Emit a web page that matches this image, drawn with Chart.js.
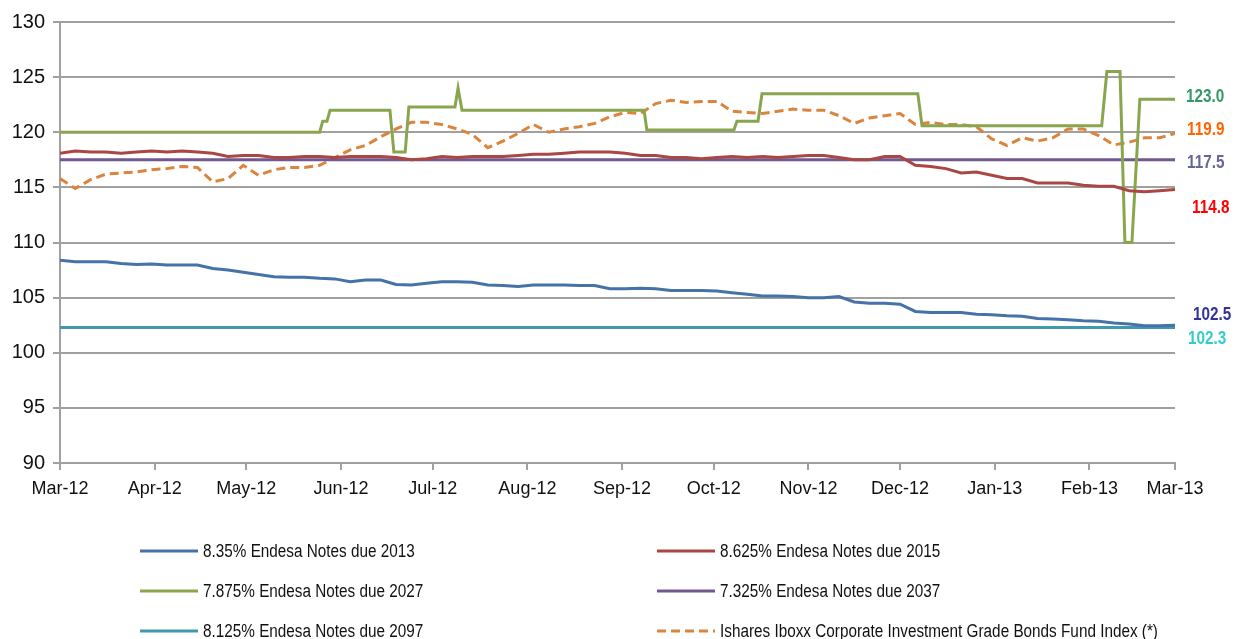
<!DOCTYPE html>
<html>
<head>
<meta charset="utf-8">
<script src="https://cdn.jsdelivr.net/npm/chart.js@4.4.0/dist/chart.umd.min.js"></script>
<style>
  body { margin: 0; background: #fff; }
  #wrap { position: relative; width: 1245px; height: 639px; }
  #chartBox { position: absolute; left: 0; top: 0; width: 1245px; height: 515px; }
  #legend { position: absolute; left: 0; top: 0; width: 1245px; height: 639px; pointer-events: none; }
  .item { position: absolute; display: flex; align-items: center; height: 40px;
          font-family: "Liberation Sans", Arial, sans-serif;
          font-size: 18px; color: #111; white-space: nowrap; }
  .item svg { margin-right: 5px; }
  /* the original uses a narrow face, so squeeze the text */
  .item span { display: inline-block; transform: scaleX(0.85); transform-origin: left center; }
</style>
</head>
<body>
<div id="wrap">
  <div id="chartBox"><canvas id="bondChart"></canvas></div>
  <div id="legend"></div>
</div>
<script>
// x axis: days since 1 Mar 2012
const monthDays = [0, 31, 61, 92, 122, 153, 184, 214, 245, 275, 306, 337, 365];
const monthLabels = ['Mar-12', 'Apr-12', 'May-12', 'Jun-12', 'Jul-12', 'Aug-12', 'Sep-12',
                     'Oct-12', 'Nov-12', 'Dec-12', 'Jan-13', 'Feb-13', 'Mar-13'];

// sampling days for the moving series
const sampleDays = [0, 5, 10, 15, 20, 25, 30, 35, 40, 45, 50, 55, 60, 65, 70, 75, 80, 85, 90, 95,
  100, 105, 110, 115, 120, 125, 130, 135, 140, 145, 150, 155, 160, 165, 170, 175, 180, 185, 190, 195,
  200, 205, 210, 215, 220, 225, 230, 235, 240, 245, 250, 255, 260, 265, 270, 275, 280, 285, 290, 295,
  300, 305, 310, 315, 320, 325, 330, 335, 340, 345, 350, 355, 360, 365];

// 8.35% Endesa Notes due 2013
const notes2013 = [108.4, 108.25, 108.25, 108.25, 108.1, 108.0, 108.05, 107.95, 107.95, 107.95,
  107.65, 107.5, 107.3, 107.1, 106.9, 106.85, 106.85, 106.75, 106.7, 106.45,
  106.6, 106.6, 106.2, 106.15, 106.3, 106.45, 106.45, 106.4, 106.15, 106.1,
  106.0, 106.15, 106.15, 106.15, 106.1, 106.1, 105.8, 105.8, 105.85, 105.8,
  105.65, 105.65, 105.65, 105.6, 105.45, 105.3, 105.15, 105.15, 105.1, 105.0,
  105.0, 105.1, 104.6, 104.5, 104.5, 104.4, 103.75, 103.65, 103.65, 103.65,
  103.5, 103.45, 103.35, 103.3, 103.1, 103.05, 103.0, 102.9, 102.85, 102.7,
  102.6, 102.45, 102.45, 102.5];

// 8.625% Endesa Notes due 2015
const notes2015 = [118.1, 118.3, 118.2, 118.2, 118.1, 118.2, 118.3, 118.2, 118.3, 118.2,
  118.1, 117.8, 117.9, 117.9, 117.7, 117.7, 117.8, 117.8, 117.7, 117.8,
  117.8, 117.8, 117.7, 117.5, 117.6, 117.8, 117.7, 117.8, 117.8, 117.8,
  117.9, 118.0, 118.0, 118.1, 118.2, 118.2, 118.2, 118.1, 117.9, 117.9,
  117.7, 117.7, 117.6, 117.7, 117.8, 117.7, 117.8, 117.7, 117.8, 117.9,
  117.9, 117.7, 117.5, 117.5, 117.8, 117.8, 117.0, 116.9, 116.7, 116.3,
  116.4, 116.1, 115.8, 115.8, 115.4, 115.4, 115.4, 115.2, 115.1, 115.1,
  114.7, 114.6, 114.7, 114.8];

// Ishares Iboxx Corporate Investment Grade Bonds Fund Index
const ishares = [115.8, 114.9, 115.7, 116.2, 116.3, 116.4, 116.6, 116.7, 116.9, 116.8,
  115.5, 115.8, 117.0, 116.1, 116.6, 116.8, 116.8, 117.0, 117.7, 118.4,
  118.8, 119.6, 120.3, 120.9, 120.9, 120.7, 120.3, 119.8, 118.6, 119.2,
  119.9, 120.7, 120.0, 120.3, 120.5, 120.8, 121.4, 121.8, 121.7, 122.6,
  122.9, 122.7, 122.8, 122.8, 121.9, 121.8, 121.7, 121.9, 122.1, 122.0,
  122.0, 121.5, 120.8, 121.3, 121.5, 121.7, 120.7, 120.9, 120.7, 120.7,
  120.5, 119.4, 118.8, 119.5, 119.2, 119.5, 120.3, 120.3, 119.7, 118.85,
  119.1, 119.5, 119.5, 119.9];

// 7.875% Endesa Notes due 2027 (moves in steps)
const notes2027Days = [0, 85, 86, 87.4, 88.4, 108, 109.3, 113, 114.2, 129.3, 130.3, 131.6,
  191.2, 192.1, 220.6, 221.6, 228.5, 229.8, 280.8, 282.2, 341, 342.7, 347, 348.6, 350.9, 353.5, 365];
const notes2027 = [120.0, 120.0, 121.0, 121.0, 122.0, 122.0, 118.2, 118.2, 122.3, 122.3, 124.0, 122.0,
  122.0, 120.2, 120.2, 121.0, 121.0, 123.5, 123.5, 120.6, 120.6, 125.5, 125.5, 110.0, 110.0, 123.0, 123.0];

// flat series
const flatDays = [0, 365];
const notes2037 = [117.5, 117.5];
const notes2097 = [102.3, 102.3];

const yTicks = [90, 95, 100, 105, 110, 115, 120, 125, 130];

function points(days, vals) {
  return days.map((d, i) => ({ x: d, y: vals[i] }));
}

const GRID = '#a0a0a0';

// value label at the right end of each line
const endLabels = {
  id: 'endLabels',
  afterDatasetsDraw(chart) {
    const ctx = chart.ctx;
    const yScale = chart.scales.y;
    const right = chart.chartArea.right;
    chart.data.datasets.forEach((ds) => {
      const lab = ds.endLabel;
      if (!lab) return;
      const last = ds.data[ds.data.length - 1].y;
      ctx.save();
      ctx.font = 'bold 18px "Liberation Sans", Arial, sans-serif';
      ctx.textBaseline = 'middle';
      ctx.textAlign = 'left';
      ctx.fillStyle = lab.color;
      ctx.translate(right + lab.dx, yScale.getPixelForValue(last) + lab.dy);
      ctx.scale(0.85, 1);
      ctx.fillText(last.toFixed(1), 0, 0);
      ctx.restore();
    });
  }
};

const datasets = [
  { label: '8.35% Endesa Notes due 2013', data: points(sampleDays, notes2013),
    borderColor: '#4572A7', endLabel: { color: '#333399', dx: 18, dy: -10 }, legendPos: [140, 531] },
  { label: '8.625% Endesa Notes due 2015', data: points(sampleDays, notes2015),
    borderColor: '#AA4643', endLabel: { color: '#FF0000', dx: 17, dy: 18 }, legendPos: [657, 531] },
  { label: '7.875% Endesa Notes due 2027', data: points(notes2027Days, notes2027),
    borderColor: '#89A54E', endLabel: { color: '#339966', dx: 11, dy: -2 }, legendPos: [140, 571] },
  { label: '7.325% Endesa Notes due 2037', data: points(flatDays, notes2037),
    borderColor: '#71588F', endLabel: { color: '#666699', dx: 12, dy: 3 }, legendPos: [657, 571] },
  { label: '8.125% Endesa Notes due 2097', data: points(flatDays, notes2097),
    borderColor: '#4198AF', endLabel: { color: '#33CCCC', dx: 13, dy: 12 }, legendPos: [140, 611] },
  { label: 'Ishares Iboxx Corporate Investment Grade Bonds Fund Index (*)', data: points(sampleDays, ishares),
    borderColor: '#DB843D', borderDash: [9, 5], endLabel: { color: '#FF6600', dx: 12, dy: -3 }, legendPos: [657, 611] }
];

datasets.forEach(ds => {
  ds.borderWidth = 3;
  ds.pointRadius = 0;
  ds.tension = 0;
  ds.fill = false;
});

const chart = new Chart(document.getElementById('bondChart'), {
  type: 'line',
  data: { datasets: datasets },
  options: {
    responsive: true,
    maintainAspectRatio: false,
    animation: false,
    layout: { padding: { top: 22, right: 70, left: 0, bottom: 0 } },
    plugins: {
      legend: { display: false },
      tooltip: { enabled: false }
    },
    scales: {
      x: {
        type: 'linear',
        min: 0,
        max: 365,
        afterBuildTicks: (scale) => { scale.ticks = monthDays.map(v => ({ value: v })); },
        afterFit: (scale) => { scale.height = 52; },
        ticks: {
          autoSkip: false,
          maxRotation: 0,
          padding: 8,
          color: '#111',
          font: { family: '"Liberation Sans", Arial, sans-serif', size: 18 },
          callback: (v, i) => monthLabels[i]
        },
        grid: { drawOnChartArea: false, drawTicks: true, tickLength: 7, color: GRID, lineWidth: 2 },
        border: { color: GRID, width: 2 }
      },
      y: {
        min: 90,
        max: 130,
        afterBuildTicks: (scale) => { scale.ticks = yTicks.map(v => ({ value: v })); },
        afterFit: (scale) => { scale.width = 60; },
        ticks: {
          padding: 8,
          color: '#111',
          font: { family: '"Liberation Sans", Arial, sans-serif', size: 20 }
        },
        grid: { color: GRID, lineWidth: 2, drawTicks: true, tickLength: 7 },
        border: { color: GRID, width: 2 }
      }
    }
  },
  plugins: [endLabels]
});

// legend in two columns under the chart
const legend = document.getElementById('legend');
datasets.forEach(ds => {
  const item = document.createElement('div');
  item.className = 'item';
  item.style.left = ds.legendPos[0] + 'px';
  item.style.top = ds.legendPos[1] + 'px';
  const dash = ds.borderDash ? ' stroke-dasharray="9 5"' : '';
  item.innerHTML = '<svg width="58" height="6"><line x1="0" y1="3" x2="58" y2="3" stroke="' +
    ds.borderColor + '" stroke-width="3"' + dash + '/></svg><span>' + ds.label + '</span>';
  legend.appendChild(item);
});
</script>
</body>
</html>
